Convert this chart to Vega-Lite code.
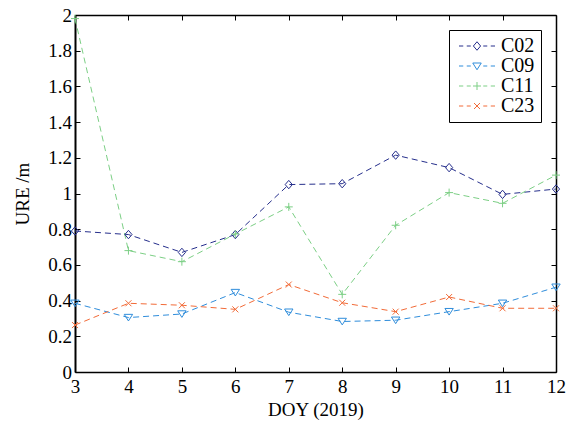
{
  "$schema": "https://vega.github.io/schema/vega-lite/v6.json",
  "width": 481,
  "height": 357,
  "autosize": {"type": "none"},
  "padding": {"left": 75, "top": 15, "right": 11, "bottom": 58},
  "background": "white",
  "config": {
    "font": "Liberation Serif",
    "view": {"stroke": null},
    "axis": {
      "domainColor": "black",
      "domainWidth": 1.5,
      "tickColor": "black",
      "tickWidth": 1,
      "tickSize": -5,
      "grid": false,
      "labelFlush": false,
      "labelFont": "Liberation Serif",
      "labelFontSize": 19,
      "labelColor": "black",
      "titleFont": "Liberation Serif",
      "titleFontSize": 19,
      "titleFontWeight": "normal",
      "titleColor": "black"
    }
  },
  "data": {
    "values": [
      {"doy": 3, "sat": "C02", "ure": 0.79},
      {"doy": 4, "sat": "C02", "ure": 0.77},
      {"doy": 5, "sat": "C02", "ure": 0.67},
      {"doy": 6, "sat": "C02", "ure": 0.77},
      {"doy": 7, "sat": "C02", "ure": 1.05},
      {"doy": 8, "sat": "C02", "ure": 1.055},
      {"doy": 9, "sat": "C02", "ure": 1.215},
      {"doy": 10, "sat": "C02", "ure": 1.145},
      {"doy": 11, "sat": "C02", "ure": 0.995},
      {"doy": 12, "sat": "C02", "ure": 1.025},
      {"doy": 3, "sat": "C09", "ure": 0.385},
      {"doy": 4, "sat": "C09", "ure": 0.305},
      {"doy": 5, "sat": "C09", "ure": 0.325},
      {"doy": 6, "sat": "C09", "ure": 0.445},
      {"doy": 7, "sat": "C09", "ure": 0.335},
      {"doy": 8, "sat": "C09", "ure": 0.283},
      {"doy": 9, "sat": "C09", "ure": 0.29},
      {"doy": 10, "sat": "C09", "ure": 0.338},
      {"doy": 11, "sat": "C09", "ure": 0.385},
      {"doy": 12, "sat": "C09", "ure": 0.475},
      {"doy": 3, "sat": "C11", "ure": 1.98},
      {"doy": 4, "sat": "C11", "ure": 0.68},
      {"doy": 5, "sat": "C11", "ure": 0.618},
      {"doy": 6, "sat": "C11", "ure": 0.773},
      {"doy": 7, "sat": "C11", "ure": 0.925},
      {"doy": 8, "sat": "C11", "ure": 0.435},
      {"doy": 9, "sat": "C11", "ure": 0.822},
      {"doy": 10, "sat": "C11", "ure": 1.005},
      {"doy": 11, "sat": "C11", "ure": 0.945},
      {"doy": 12, "sat": "C11", "ure": 1.103},
      {"doy": 3, "sat": "C23", "ure": 0.263},
      {"doy": 4, "sat": "C23", "ure": 0.385},
      {"doy": 5, "sat": "C23", "ure": 0.374},
      {"doy": 6, "sat": "C23", "ure": 0.351},
      {"doy": 7, "sat": "C23", "ure": 0.49},
      {"doy": 8, "sat": "C23", "ure": 0.388},
      {"doy": 9, "sat": "C23", "ure": 0.338},
      {"doy": 10, "sat": "C23", "ure": 0.42},
      {"doy": 11, "sat": "C23", "ure": 0.357},
      {"doy": 12, "sat": "C23", "ure": 0.357}
    ]
  },
  "resolve": {"axis": {"x": "independent", "y": "independent"}},
  "layer": [
    {
      "transform": [{"filter": "false"}],
      "mark": {"type": "point", "filled": false, "strokeWidth": 1, "size": 100, "opacity": 1},
      "encoding": {
        "color": {
          "field": "sat", "type": "nominal",
          "scale": {"domain": ["C02", "C09", "C11", "C23"], "range": ["#262f8c", "#2f8ddb", "#7ccf85", "#f26b38"]},
          "legend": {
            "title": null,
            "orient": "top-right",
            "offset": 15,
            "padding": 6,
            "strokeColor": "black",
            "fillColor": "white",
            "symbolSize": 100,
            "symbolStrokeWidth": 1,
            "symbolOffset": 12,
            "labelOffset": 14,
            "labelFont": "Liberation Serif",
            "labelFontSize": 20,
            "labelColor": "black",
            "rowPadding": -1.2
          }
        },
        "shape": {
          "field": "sat", "type": "nominal",
          "scale": {
            "domain": ["C02", "C09", "C11", "C23"],
            "range": [
              "M-3.6,0H-2.75M-2.05,0H-1.25M1.25,0H2.05M2.75,0H3.6M0,-0.85L0.72,0L0,0.85L-0.72,0Z",
              "M-3.6,0H-2.75M-2.05,0H-1.25M1.25,0H2.05M2.75,0H3.6M-0.85,-0.6L0.85,-0.6L0,0.75Z",
              "M-3.6,0H-2.75M-2.05,0H-1.25M1.25,0H2.05M2.75,0H3.6M-0.8,0H0.8M0,-0.8V0.8",
              "M-3.6,0H-2.75M-2.05,0H-1.25M1.25,0H2.05M2.75,0H3.6M-0.6,-0.6L0.6,0.6M-0.6,0.6L0.6,-0.6"
            ]
          },
          "legend": {
            "title": null,
            "orient": "top-right",
            "offset": 15,
            "padding": 6,
            "strokeColor": "black",
            "fillColor": "white",
            "symbolSize": 100,
            "symbolStrokeWidth": 1,
            "symbolOffset": 12,
            "labelOffset": 14,
            "labelFont": "Liberation Serif",
            "labelFontSize": 20,
            "labelColor": "black",
            "rowPadding": -1.2
          }
        }
      }
    },
    {
      "mark": {"type": "line", "strokeWidth": 1, "strokeDash": [6, 4], "clip": true},
      "encoding": {
        "x": {
          "field": "doy", "type": "quantitative",
          "scale": {"domain": [3, 12], "nice": false, "zero": false},
          "axis": {"orient": "bottom", "values": [3, 4, 5, 6, 7, 8, 9, 10, 11, 12], "title": "DOY (2019)", "labelPadding": 10, "titlePadding": 4, "titleColor": "black"}
        },
        "y": {
          "field": "ure", "type": "quantitative",
          "scale": {"domain": [0, 2], "nice": false},
          "axis": {"orient": "left", "values": [0, 0.2, 0.4, 0.6, 0.8, 1, 1.2, 1.4, 1.6, 1.8, 2], "format": "~g", "title": "URE /m", "labelPadding": 8.5, "titlePadding": 15, "domainWidth": 2, "titleColor": "black"}
        },
        "color": {"field": "sat", "type": "nominal", "legend": null},
        "detail": {"field": "sat"}
      }
    },
    {
      "transform": [{"filter": "datum.sat === 'C02'"}],
      "mark": {"type": "point", "filled": false, "strokeWidth": 1, "size": 64, "opacity": 1, "shape": "M0,-1.05L0.9,0L0,1.05L-0.9,0Z"},
      "encoding": {
        "x": {
          "field": "doy", "type": "quantitative",
          "axis": {"orient": "top", "values": [3, 4, 5, 6, 7, 8, 9, 10, 11, 12], "labels": false, "title": null}
        },
        "y": {
          "field": "ure", "type": "quantitative",
          "axis": {"orient": "right", "values": [0, 0.2, 0.4, 0.6, 0.8, 1, 1.2, 1.4, 1.6, 1.8, 2], "labels": false, "title": null}
        },
        "color": {"field": "sat", "type": "nominal", "legend": null}
      }
    },
    {
      "transform": [{"filter": "datum.sat === 'C09'"}],
      "mark": {"type": "point", "filled": false, "strokeWidth": 1, "size": 64, "opacity": 1, "shape": "M-1.05,-0.8L1.05,-0.8L0,0.85Z"},
      "encoding": {
        "x": {"field": "doy", "type": "quantitative", "axis": null},
        "y": {"field": "ure", "type": "quantitative", "axis": null},
        "color": {"field": "sat", "type": "nominal", "legend": null}
      }
    },
    {
      "transform": [{"filter": "datum.sat === 'C11'"}],
      "mark": {"type": "point", "filled": false, "strokeWidth": 1, "size": 64, "opacity": 1, "shape": "M-1,0H1M0,-1V1"},
      "encoding": {
        "x": {"field": "doy", "type": "quantitative", "axis": null},
        "y": {"field": "ure", "type": "quantitative", "axis": null},
        "color": {"field": "sat", "type": "nominal", "legend": null}
      }
    },
    {
      "transform": [{"filter": "datum.sat === 'C23'"}],
      "mark": {"type": "point", "filled": false, "strokeWidth": 1, "size": 64, "opacity": 1, "shape": "M-0.75,-0.75L0.75,0.75M-0.75,0.75L0.75,-0.75"},
      "encoding": {
        "x": {"field": "doy", "type": "quantitative", "axis": null},
        "y": {"field": "ure", "type": "quantitative", "axis": null},
        "color": {"field": "sat", "type": "nominal", "legend": null}
      }
    }
  ]
}
